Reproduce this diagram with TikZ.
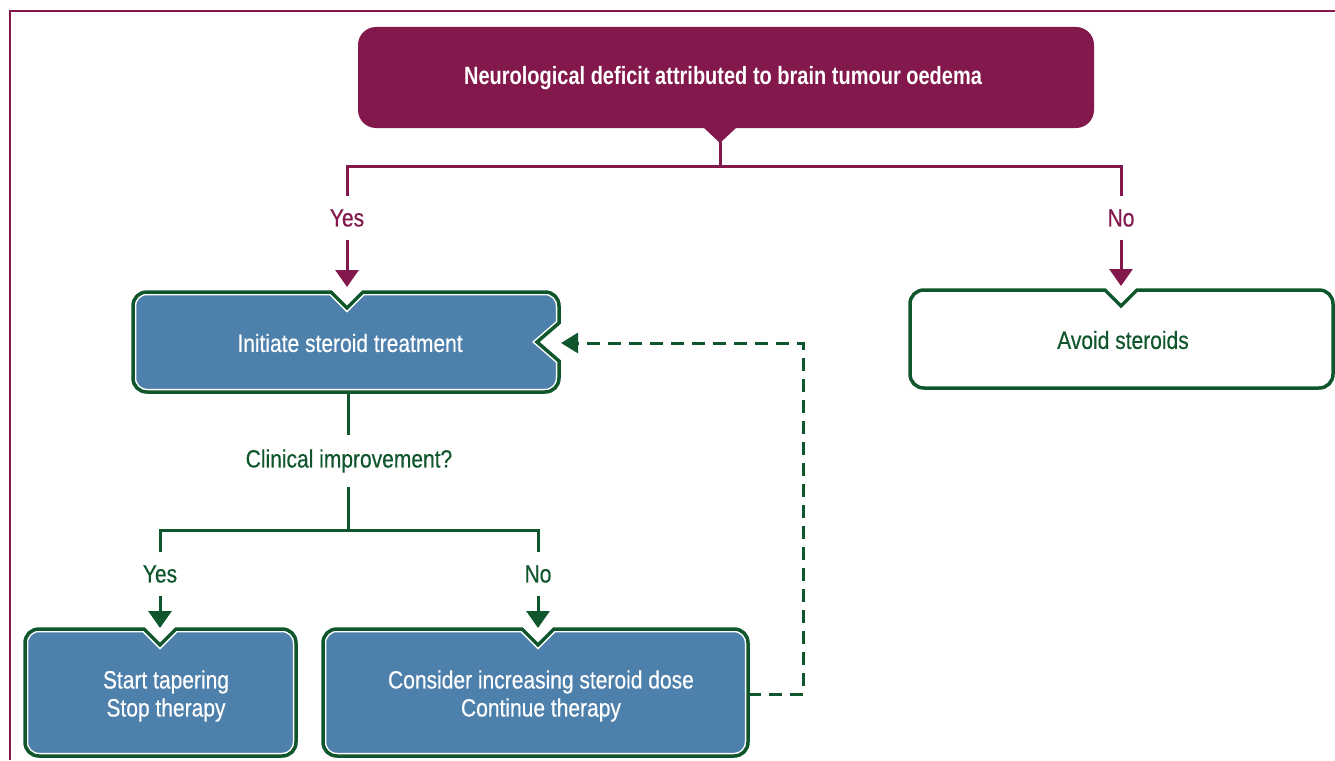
\documentclass[tikz,border=0pt]{standalone}
\usepackage{fontspec}
\setmainfont{Liberation Sans}[FakeStretch=0.84, FakeBold=0.4, BoldFeatures={FakeStretch=0.8, FakeBold=0}]
\usetikzlibrary{arrows.meta}
\definecolor{plum}{RGB}{130,24,76}
\definecolor{dgreen}{RGB}{16,86,44}
\definecolor{sblue}{RGB}{78,128,172}
% #1 x1, #2 y1, #3 x2, #4 y2, #5 top notch x, #6 right notch depth
\newcommand\notchpath[6]{(#5,#2+16) -- (#5+16,#2) -- (#3-14,#2) .. controls (#3-6,#2) and (#3,#2+6) .. (#3,#2+14)
 -- (#3,{(#2+#4)/2-19}) -- ({#3-#6},{(#2+#4)/2}) -- (#3,{(#2+#4)/2+19})
 -- (#3,#4-14) .. controls (#3,#4-6) and (#3-6,#4) .. (#3-14,#4)
 -- (#1+14,#4) .. controls (#1+6,#4) and (#1,#4-6) .. (#1,#4-14)
 -- (#1,#2+14) .. controls (#1,#2+6) and (#1+6,#2) .. (#1+14,#2)
 -- (#5-16,#2) -- cycle}
\newcommand\bluebox[6]{%
 \fill[sblue] \notchpath{#1}{#2}{#3}{#4}{#5}{#6};
 \draw[white, line width=6.5pt] \notchpath{#1}{#2}{#3}{#4}{#5}{#6};
 \draw[dgreen, line width=3.5pt] \notchpath{#1}{#2}{#3}{#4}{#5}{#6};}
\begin{document}
\begin{tikzpicture}[x=1pt,y=-1pt,line join=miter,
  txt/.style={font=\fontsize{25}{28}\selectfont, align=center, inner sep=0pt},
  wtxt/.style={txt, text=white},
  lbl/.style={font=\fontsize{25}{28}\selectfont, inner xsep=2pt, inner ysep=13pt},
  pline/.style={plum, line width=3pt},
  gline/.style={dgreen, line width=3pt},
  parrow/.style={pline, -{Triangle[width=23pt,length=17pt]}},
  garrow/.style={gline, -{Triangle[width=23pt,length=17pt]}},
  darrow/.style={dgreen, line width=3pt, dash pattern=on 13pt off 8pt, -{Triangle[width=20pt,length=17pt]}}]
\useasboundingbox (0,0) rectangle (1335,760);
% frame
\draw[plum, line width=2.5pt] (10,760) -- (10,11) -- (1335,11);
% top box
\fill[plum, rounded corners=18pt] (358,27) rectangle (1094,128);
\fill[plum] (703,127) -- (720,143) -- (737,127) -- cycle;
\node[txt, text=white, font=\bfseries\fontsize{25}{28}\selectfont] (top) at (723,78) {Neurological deficit attributed to brain tumour oedema};
\coordinate (topTip) at (720,142);
\coordinate (jT) at (720,166);
% boxes
\bluebox{133}{292}{559}{392}{347}{22}
\node[wtxt] (init) at (350,343) {Initiate steroid treatment};
\draw[dgreen, line width=3.5pt] \notchpath{910}{290}{1333}{388}{1121}{0};
\node[txt, text=dgreen] (avoid) at (1123,340) {Avoid steroids};
\bluebox{25}{629}{296}{756}{160}{0}
\node[wtxt] (start) at (166,696) {Start tapering\\Stop therapy};
\bluebox{323}{629}{748}{756}{538}{0}
\node[wtxt] (consider) at (541,696) {Consider increasing steroid dose\\Continue therapy};
% labels
\node[lbl, text=plum] (yes1) at (347,218) {Yes};
\node[lbl, text=plum] (no1) at (1121,218) {No};
\node[lbl, inner ysep=14pt, text=dgreen] (clin) at (349,461) {Clinical improvement?};
\node[lbl, text=dgreen] (yes2) at (160,574) {Yes};
\node[lbl, text=dgreen] (no2) at (538,574) {No};
% coordinates
\coordinate (initTop) at (347,287);
\coordinate (avoidTop) at (1121,286);
\coordinate (initBot) at (348,392);
\coordinate (jG) at (348,530);
\coordinate (startTop) at (160,628);
\coordinate (consTop) at (538,628);
\coordinate (consR) at (748,694);
\coordinate (dC) at (803,694);
\coordinate (initR) at (561,343);
% purple connectors
\draw[pline] (topTip) -- (jT);
\draw[pline] (yes1.north) |- (jT) -| (no1.north);
\draw[parrow] (yes1.south) -- (initTop);
\draw[parrow] (no1.south) -- (avoidTop);
% green connectors
\draw[gline] (initBot) -- (initBot |- clin.north);
\draw[gline] (clin.south -| jG) -- (jG);
\draw[gline] (yes2.north) |- (jG) -| (no2.north);
\draw[garrow] (yes2.south) -- (startTop);
\draw[garrow] (no2.south) -- (consTop);
\draw[darrow] (consR) -- (dC) |- (initR);
\end{tikzpicture}
\end{document}
